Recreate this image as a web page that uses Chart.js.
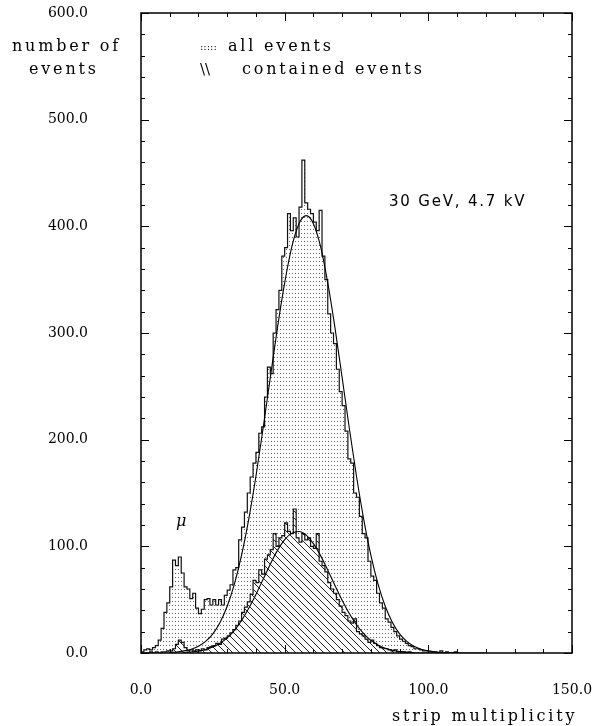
<!DOCTYPE html>
<html><head><meta charset="utf-8">
<script src="https://cdn.jsdelivr.net/npm/chart.js@4.4.1/dist/chart.umd.min.js"></script>
<style>html,body{margin:0;padding:0;background:#fff;}canvas{display:block}</style>
</head><body>
<canvas id="c" width="598" height="726"></canvas>
<script>
// ---- data (bin i covers [i, i+1) strips) ----
const binWidth = 1;
const allEvents = [
  2,1,3,4,3,5,7,12,23,38,
  47,62,87,82,90,75,62,60,51,56,
  42,37,41,50,51,45,50,45,50,45,
  54,59,64,78,80,106,118,132,150,165,
  178,188,206,212,240,268,262,300,322,340,
  372,380,412,396,408,390,418,462,422,416,
  412,404,396,415,372,350,318,300,290,266,
  245,232,208,182,178,150,146,128,112,108,
  86,72,68,56,47,42,32,29,24,20,
  16,13,11,9,7,6,4,4,3,2,
  2,1,1,1,0,2,0,1,0,0,
  1,0,0,0,0,0,0,0,0,0
];
const containedEvents = [
  0,0,0,0,1,0,1,0,1,1,
  2,2,4,8,12,10,5,2,3,2,
  3,2,4,3,5,6,7,9,8,13,
  14,16,19,22,26,30,38,43,48,55,
  68,66,78,74,88,92,97,112,100,108,
  110,122,114,112,135,108,104,112,106,108,
  100,98,112,86,82,76,66,60,56,50,
  44,38,35,30,28,32,20,18,16,13,
  10,12,9,7,5,4,4,3,2,3,
  1,1,1,0,1,0,0,0,0,0
];
const fitAllX = [10,12.5,15,17.5,20,22.5,25,27.5,30,32.5,35,37.5,40,42.5,45,47.5,50,52.5,55,57.5,60,62.5,65,67.5,70,72.5,75,77.5,80,82.5,85,87.5,90,92.5,95,97.5,100,102.5,105,107.5,110];
const fitAllY = [0.5,1.0,2.0,3.6,6.4,10.9,18.0,28.6,43.8,64.5,91.7,125.6,165.7,210.7,258.2,305,347,381,402.5,410,402.5,381,347,305,258.2,210.7,165.7,125.6,91.7,64.5,43.8,28.6,18.0,10.9,6.4,3.6,2.0,1.0,0.5,0.2,0.1];
const fitContX = [15,17.5,20,22.5,25,27.5,30,32.5,35,37.5,40,42.5,45,47.5,50,52.5,55,57.5,60,62.5,65,67.5,70,72.5,75,77.5,80,82.5,85,87.5,90,92.5,95];
const fitContY = [0.5,1.0,1.8,3.3,5.6,9.1,14.2,21.2,30.5,41.9,54.9,69.1,83.3,96.2,106.3,112.4,113.9,110.5,102.6,91.3,77.7,63.4,49.5,37.0,26.5,18.2,11.9,7.5,4.5,2.6,1.4,0.8,0.4];
const xTickLabels = [0,50,100,150];
const yTickLabels = [0,100,200,300,400,500,600];
const xMinorTicks = [10,20,30,40,60,70,80,90,110,120,130,140];
const yMinorTicks = [20,40,60,80,120,140,160,180,220,240,260,280,320,340,360,380,420,440,460,480,520,540,560,580];

function histPoints(counts){
  const pts = counts.map((c,i)=>({x:i*binWidth,y:c}));
  pts.push({x:counts.length*binWidth,y:counts[counts.length-1]});
  return pts;
}
function dotPattern(){
  const c=document.createElement('canvas');c.width=3;c.height=4;
  const g=c.getContext('2d');g.fillStyle='#fff';g.fillRect(0,0,3,4);
  g.fillStyle='#666';g.fillRect(1,1,1,1);
  return g.createPattern(c,'repeat');
}
function hatchPattern(){
  const s=7;const c=document.createElement('canvas');c.width=s;c.height=s;
  const g=c.getContext('2d');g.fillStyle='#fff';g.fillRect(0,0,s,s);
  g.strokeStyle='#222';g.lineWidth=1;g.beginPath();
  g.moveTo(-1,-1);g.lineTo(s+1,s+1);
  g.moveTo(-1,s-1);g.lineTo(1,s+1);
  g.moveTo(s-1,-1);g.lineTo(s+1,1);
  g.stroke();
  return g.createPattern(c,'repeat');
}
function zeroPad(s){s.paddingTop=0;s.paddingBottom=0;s.paddingLeft=0;s.paddingRight=0;}

const serif = '"DejaVu Serif", serif';
const decorations = {
  id:'decorations',
  afterDatasetsDraw(chart){
    const {ctx, chartArea:a, scales:{x,y}} = chart;
    ctx.save();
    ctx.strokeStyle='#000';ctx.lineWidth=1;
    const seg=(x1,y1,x2,y2)=>{ctx.beginPath();ctx.moveTo(x1,y1);ctx.lineTo(x2,y2);ctx.stroke();};
    xTickLabels.concat(xMinorTicks).forEach(v=>{
      const len = xTickLabels.includes(v)?8:4;
      const px = Math.round(x.getPixelForValue(v))+0.5;
      seg(px,a.bottom,px,a.bottom-len); seg(px,a.top,px,a.top+len);
    });
    yTickLabels.concat(yMinorTicks).forEach(v=>{
      const len = yTickLabels.includes(v)?8:4;
      const py = Math.round(y.getPixelForValue(v))+0.5;
      seg(a.left,py,a.left+len,py); seg(a.right,py,a.right-len,py);
    });
    ctx.lineWidth=1.5;
    ctx.strokeRect(a.left,a.top,a.right-a.left,a.bottom-a.top);
    // texts
    ctx.fillStyle='#000';ctx.textBaseline='middle';ctx.textAlign='left';
    const txt=(s,px,py,font,ls)=>{ctx.font=font;ctx.letterSpacing=ls||'0px';ctx.fillText(s,px,py);};
    txt('number of',12,47,'16px '+serif,'2.8px');
    txt('events',29,70,'16px '+serif,'2.8px');
    txt(':::::',200,47,'10px '+serif,'0px');
    txt('all events',228,47,'16px '+serif,'2.8px');
    txt('\\\\',200,70,'15px '+serif,'0px');
    txt('contained events',242,70,'16px '+serif,'2.8px');
    txt('30 GeV, 4.7 kV',389,202,'15px "DejaVu Sans", sans-serif','1.8px');
    txt('\u03BC',176,522,'italic 16px '+serif,'0px');
    txt('strip multiplicity',392,717,'16px '+serif,'2.8px');
    ctx.restore();
  }
};

new Chart(document.getElementById('c'),{
  type:'line',
  data:{datasets:[
    {label:'all events',data:histPoints(allEvents),stepped:'after',borderColor:'#111',borderWidth:1.2,
     backgroundColor:dotPattern(),fill:'origin',pointRadius:0,order:4},
    {label:'contained events',data:histPoints(containedEvents),stepped:'after',borderColor:'#111',borderWidth:1.2,
     backgroundColor:hatchPattern(),fill:'origin',pointRadius:0,order:3},
    {label:'fit all',data:fitAllX.map((v,i)=>({x:v,y:fitAllY[i]})),borderColor:'#000',borderWidth:1.1,
     cubicInterpolationMode:'monotone',pointRadius:0,fill:false,order:2},
    {label:'fit contained',data:fitContX.map((v,i)=>({x:v,y:fitContY[i]})),borderColor:'#000',borderWidth:1.1,
     cubicInterpolationMode:'monotone',pointRadius:0,fill:false,order:1}
  ]},
  options:{
    responsive:false,animation:false,events:[],
    layout:{padding:{left:0,top:13,right:26,bottom:0}},
    plugins:{legend:{display:false},tooltip:{enabled:false}},
    scales:{
      x:{type:'linear',min:0,max:150,
        afterBuildTicks:s=>{s.ticks=xTickLabels.map(v=>({value:v}));},
        afterFit:s=>{s.height=73;zeroPad(s);},
        grid:{display:false,drawTicks:false},border:{display:false},
        ticks:{font:{family:serif,size:14},color:'#000',padding:29,maxRotation:0,autoSkip:false,
          callback:v=>Number(v).toFixed(1)}},
      y:{type:'linear',min:0,max:600,
        afterBuildTicks:s=>{s.ticks=yTickLabels.map(v=>({value:v}));},
        afterFit:s=>{s.width=141;zeroPad(s);},
        grid:{display:false,drawTicks:false},border:{display:false},
        ticks:{font:{family:serif,size:14},color:'#000',padding:53,autoSkip:false,
          callback:v=>Number(v).toFixed(1)}}
    }
  },
  plugins:[decorations]
});
</script>
</body></html>
